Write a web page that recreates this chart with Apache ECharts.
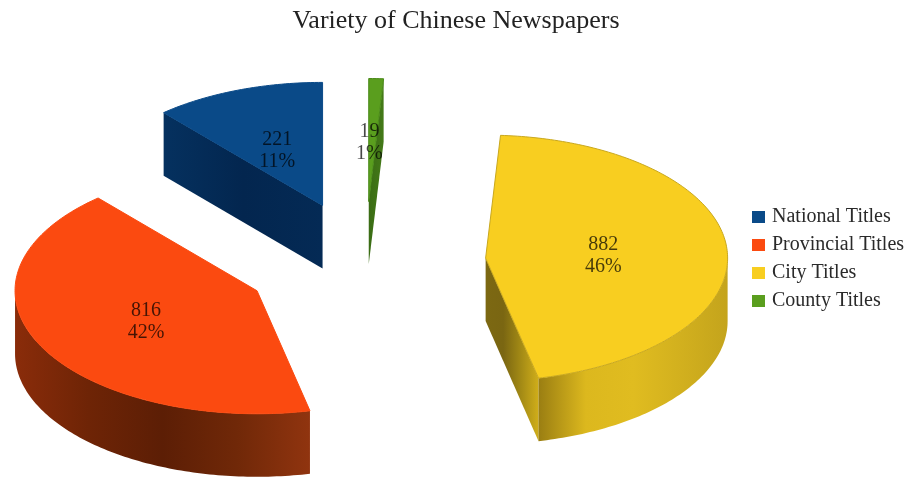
<!DOCTYPE html>
<html>
<head>
<meta charset="utf-8">
<style>html,body{margin:0;padding:0;background:#fff}#chart{width:908px;height:477px}</style>
<script src="https://cdn.jsdelivr.net/npm/echarts@6/dist/echarts.min.js"></script>
</head>
<body>
<div id="chart"></div>
<script>
const categories = ['National Titles', 'Provincial Titles', 'City Titles', 'County Titles'];
const titleCounts = [221, 816, 882, 19];
const faceColors = ['#0a4a88', '#fb4a10', '#f8ce20', '#5a9e1e'];
const edgeColors = ['#0a4a88', '#fb4a10', '#c9a81e', '#4a8a18'];

// Wall shading as left-to-right gradient stops.
const rimShades = [
  ['#03264f', '#03264f'],
  ['#8a2c0a', '#6e2406', '#5c1e05', '#702808', '#90340f'],
  ['#9a7e12', '#dcb81e', '#e0bc20', '#d2b01e', '#c4a41c'],
  ['#2e5a10', '#2e5a10']
];
const cutShades = [
  ['#05315f', '#03264f', '#042a55'],
  ['#5c1e05', '#5c1e05'],
  ['#7c6812', '#7a6612', '#a38a15', '#d0ae1a'],
  ['#3a6c14', '#447a18']
];

// Projection of the exploded pie: centre, ellipse radii, thickness, explosion.
const pie = { cx: 365, cy: 263, rx: 242, ry: 123, depth: 63, explode: 0.5 };
const total = titleCounts.reduce((a, b) => a + b, 0);

// Slices run counter-clockwise from twelve o'clock; bounds are stored clockwise.
const bounds = [];
let sweptSoFar = 0;
titleCounts.forEach(v => {
  const sweep = v / total * 360;
  bounds.push([360 - sweptSoFar - sweep, 360 - sweptSoFar]);
  sweptSoFar += sweep;
});

const rad = d => d * Math.PI / 180;
const ground = (deg, r) => [Math.sin(rad(deg)) * pie.rx * r, -Math.cos(rad(deg)) * pie.ry * r];

function gradient(stops) {
  return new echarts.graphic.LinearGradient(0, 0, 1, 0,
    stops.map((color, i) => ({ offset: i / (stops.length - 1), color })));
}

function arc(ax, ay, from, to, drop) {
  const pts = [];
  const n = Math.max(2, Math.ceil(Math.abs(to - from)));
  for (let i = 0; i <= n; i++) {
    const p = ground(from + (to - from) * i / n, 1);
    pts.push([ax + p[0], ay + p[1] + drop]);
  }
  return pts;
}

function renderSlice(idx) {
  const [t1, t2] = bounds[idx];
  const mid = (t1 + t2) / 2;
  const off = ground(mid, pie.explode);
  const ax = pie.cx + off[0], ay = pie.cy + off[1];
  const children = [];

  // Cut faces that turn towards the viewer.
  [[t1, Math.sin(rad(t1)) < -1e-6], [t2, Math.sin(rad(t2)) > 1e-6]].forEach(([deg, visible]) => {
    if (!visible) return;
    const e = ground(deg, 1);
    children.push({
      type: 'polygon',
      shape: { points: [[ax, ay], [ax + e[0], ay + e[1]], [ax + e[0], ay + e[1] + pie.depth], [ax, ay + pie.depth]] },
      style: { fill: gradient(cutShades[idx]) }
    });
  });

  // Curved rim, only the front half of the circle.
  const from = Math.max(t1, 90), to = Math.min(t2, 270);
  if (to > from) {
    const top = arc(ax, ay, from, to, 0);
    const bottom = arc(ax, ay, from, to, pie.depth).reverse();
    children.push({
      type: 'polygon',
      shape: { points: top.concat(bottom) },
      style: { fill: gradient(rimShades[idx]) }
    });
  }

  // Top face.
  children.push({
    type: 'polygon',
    shape: { points: [[ax, ay]].concat(arc(ax, ay, t1, t2, 0)) },
    style: { fill: faceColors[idx], stroke: edgeColors[idx], lineWidth: 1, lineJoin: 'round' }
  });

  // Value and share, half way along the middle radius.
  const lab = ground(mid, 0.5);
  children.push({
    type: 'text',
    z2: 10,
    style: {
      x: ax + lab[0] - 3,
      y: ay + lab[1] + 3,
      text: titleCounts[idx] + '\n' + Math.round(titleCounts[idx] / total * 100) + '%',
      font: '20px "Liberation Serif"',
      lineHeight: 22,
      fill: 'rgba(0,0,0,0.72)',
      align: 'center',
      verticalAlign: 'middle'
    }
  });
  return { type: 'group', children };
}

const chart = echarts.init(document.getElementById('chart'), null, { renderer: 'canvas' });
chart.setOption({
  animation: false,
  backgroundColor: '#ffffff',
  title: {
    text: 'Variety of Chinese Newspapers',
    left: 451,
    top: 3,
    textAlign: 'center',
    textStyle: { fontFamily: 'Liberation Serif', fontSize: 26, fontWeight: 'normal', color: '#222222' }
  },
  legend: {
    orient: 'vertical',
    left: 747,
    top: 202,
    itemWidth: 13,
    itemHeight: 12,
    itemGap: 8,
    icon: 'rect',
    selectedMode: false,
    data: categories,
    textStyle: { fontFamily: 'Liberation Serif', fontSize: 20, color: '#2a2a2a', padding: [0, 0, 0, 2] }
  },
  series: categories.map((name, i) => ({
    type: 'custom',
    name,
    coordinateSystem: 'none',
    color: faceColors[i],
    itemStyle: { color: faceColors[i] },
    data: [[titleCounts[i]]],
    renderItem: () => renderSlice(i),
    silent: true
  }))
});
</script>
</body>
</html>
